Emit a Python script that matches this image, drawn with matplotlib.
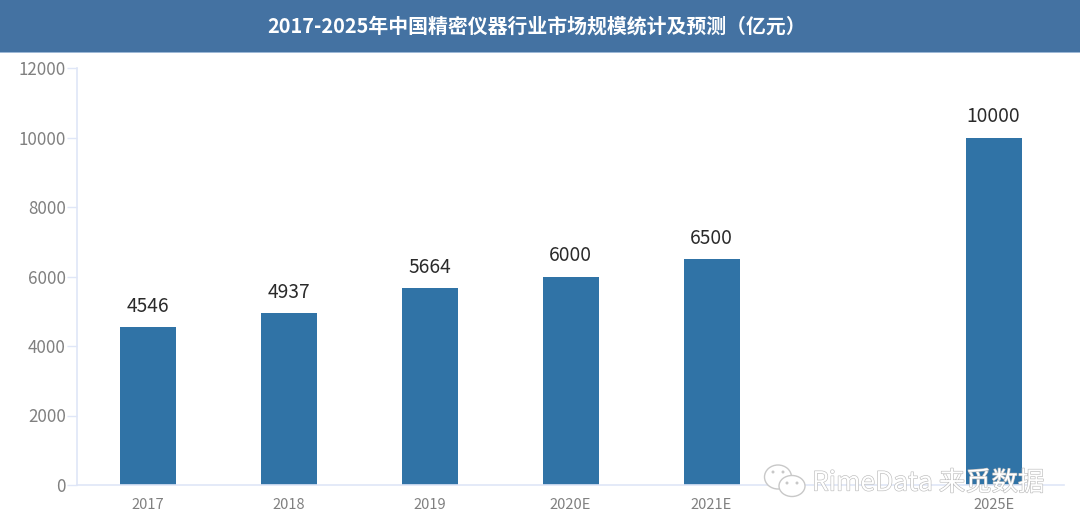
import matplotlib
matplotlib.use("Agg")
import matplotlib.pyplot as plt
import matplotlib.patheffects as pe
from matplotlib.patches import Rectangle, Ellipse, Polygon
import numpy as np

FONT = ['Noto Sans CJK SC', 'DejaVu Sans']
plt.rcParams['font.family'] = FONT

title = '2017-2025年中国精密仪器行业市场规模统计及预测（亿元）'
categories = ['2017', '2018', '2019', '2020E', '2021E', '', '2025E']
values = [4546, 4937, 5664, 6000, 6500, np.nan, 10000]
yticks = [0, 2000, 4000, 6000, 8000, 10000, 12000]
watermark = 'RimeData 来觅数据'

W, H = 1080, 529
fig = plt.figure(figsize=(W / 100, H / 100), dpi=100, facecolor='white')

def fx(x): return x / W
def fy(y): return 1 - y / H

# Header band
fig.add_artist(Rectangle((0, fy(52)), 1, 52 / H, transform=fig.transFigure,
                         facecolor='#4472a2', edgecolor='none'))
fig.add_artist(Rectangle((0, fy(53)), 1, 1.2 / H, transform=fig.transFigure,
                         facecolor='#9db8d6', edgecolor='none'))
fig.text(fx(537), fy(26.3), title, color='white', fontsize=14.3, fontweight='bold',
         ha='center', va='center')

ax = fig.add_axes([fx(77), fy(485), (1064 - 77) / W, (485 - 68) / H])
x = np.arange(len(categories))
bars = ax.bar(x, values, width=56 / 141, color='#3073a6')
ax.set_xlim(-0.5, len(categories) - 0.5)
ax.set_ylim(0, 12000)

for xi, v in zip(x, values):
    if not np.isnan(v):
        ax.annotate(f'{v:d}', (xi, v), xytext=(0, 7.5), textcoords='offset points',
                    ha='center', va='bottom', fontsize=13.8, color='#2a2a2a',
                    family=['Noto Sans CJK SC'], fontweight='light')

for s in ('top', 'right'):
    ax.spines[s].set_visible(False)
for s in ('left', 'bottom'):
    ax.spines[s].set_color('#dfe6f7')
    ax.spines[s].set_linewidth(1.2)

ax.set_yticks(yticks)
ax.set_yticklabels([str(t) for t in yticks], fontsize=12.2, color='#808080', fontweight='light')
ax.tick_params(axis='y', length=7, width=1, color='#dfe6f7', pad=1)
ax.set_xticks(x)
ax.set_xticklabels(categories, fontsize=10.5, color='#808080', fontweight='light')
ax.tick_params(axis='x', length=0, pad=9.7)

# Watermark
stroke = [pe.withStroke(linewidth=0.9, foreground='#bdbdbd')]
fig.text(fx(812), fy(483), watermark, color='white', fontsize=19, ha='left', va='center',
         path_effects=stroke, zorder=10, fontweight='light')
for cx, cy, w, h in [(778, 477, 27, 24), (792, 486, 26, 21)]:
    fig.add_artist(Ellipse((fx(cx), fy(cy)), w / W, h / H, transform=fig.transFigure,
                           facecolor='white', edgecolor='#c8c8c8', linewidth=1, zorder=9))
for px, py in [(773, 472), (783, 472), (787, 483), (797, 483)]:
    fig.add_artist(Ellipse((fx(px), fy(py)), 3 / W, 3 / H, transform=fig.transFigure,
                           facecolor='#c8c8c8', edgecolor='none', zorder=10))

fig.savefig('out.png', dpi=100, facecolor='white')
